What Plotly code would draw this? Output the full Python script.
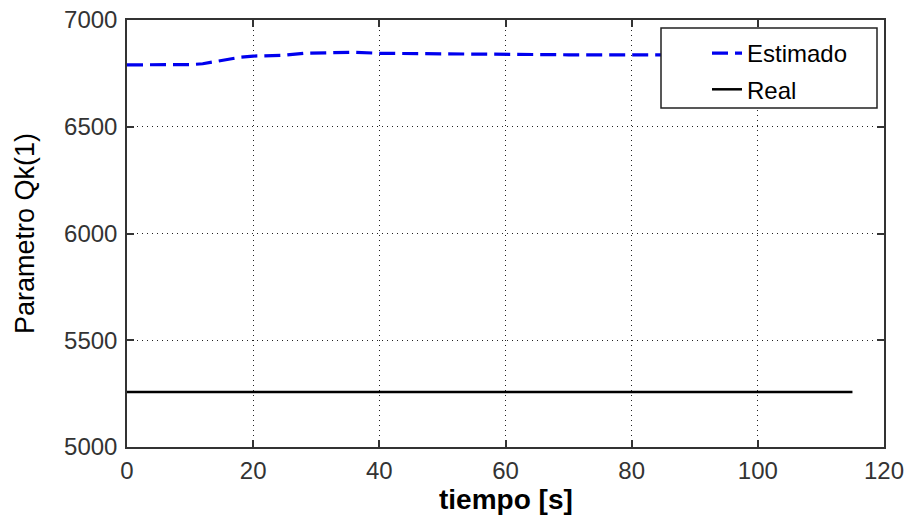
import plotly.graph_objects as go

# Data
t_est = [0, 5, 10, 12, 15, 18, 20, 25, 28, 32, 36, 40, 50, 60, 70, 80, 90, 100, 115]
q_est = [6790, 6790, 6791, 6795, 6812, 6826, 6831, 6835, 6844, 6848, 6849, 6844, 6841, 6837, 6837, 6837, 6837, 6837, 6837]
t_real = [0, 115]
q_real = [5258, 5258]

x_ticks = [0, 20, 40, 60, 80, 100, 120]
y_ticks = [5000, 5500, 6000, 6500, 7000]

FONT = "Liberation Sans, Arial, sans-serif"

fig = go.Figure()
fig.add_trace(go.Scatter(x=t_est, y=q_est, mode="lines", name="Estimado",
                         line=dict(color="#0000EE", width=3.2, dash="16px,7px"),
                         legendgroup="a"))
fig.add_trace(go.Scatter(x=t_real, y=q_real, mode="lines", name="Real",
                         line=dict(color="black", width=2.5),
                         legendgroup="b"))

W, H = 914, 515
ml, mr, mt, mb = 127, 30, 20, 68
pw, ph = W - ml - mr, H - mt - mb

def px_x(p):
    return (p - ml) / pw

def px_y(p):
    return (H - mb - p) / ph

axis_common = dict(
    showline=True, linecolor="#333", linewidth=1.5, mirror="ticks",
    ticks="inside", ticklen=7, tickcolor="#333", tickwidth=1.5,
    showgrid=True, gridcolor="#222", gridwidth=1, griddash="1px,4px",
    zeroline=False,
    tickfont=dict(family=FONT, size=24, color="#333"),
)

fig.update_xaxes(range=[0, 120], tickvals=x_ticks, ticklabelstandoff=1, **axis_common)
fig.update_yaxes(range=[5000, 7000], tickvals=y_ticks, ticklabelstandoff=3, **axis_common,
                 title=dict(text="Parametro Qk(1)", font=dict(family=FONT, size=27, color="black"),
                            standoff=22))

fig.add_annotation(text="<b>tiempo [s]</b>", xref="paper", yref="paper",
                   x=0.5, y=px_y(482), xanchor="center", yanchor="top",
                   showarrow=False, font=dict(family=FONT, size=28, color="black"))

fig.add_shape(type="rect", xref="paper", yref="paper",
              x0=px_x(661), x1=px_x(877), y0=px_y(108), y1=px_y(28),
              line=dict(color="#222", width=1.5), fillcolor="white", layer="above")

fig.update_layout(
    width=W, height=H,
    margin=dict(l=ml, r=mr, t=mt, b=mb, autoexpand=False),
    paper_bgcolor="white", plot_bgcolor="white",
    showlegend=True,
    legend=dict(x=px_x(707), y=px_y(31), xanchor="left", yanchor="top",
                bgcolor="rgba(0,0,0,0)", borderwidth=0,
                font=dict(family=FONT, size=24, color="black"),
                tracegroupgap=2, itemwidth=30),
)

fig.write_html("out.html")
